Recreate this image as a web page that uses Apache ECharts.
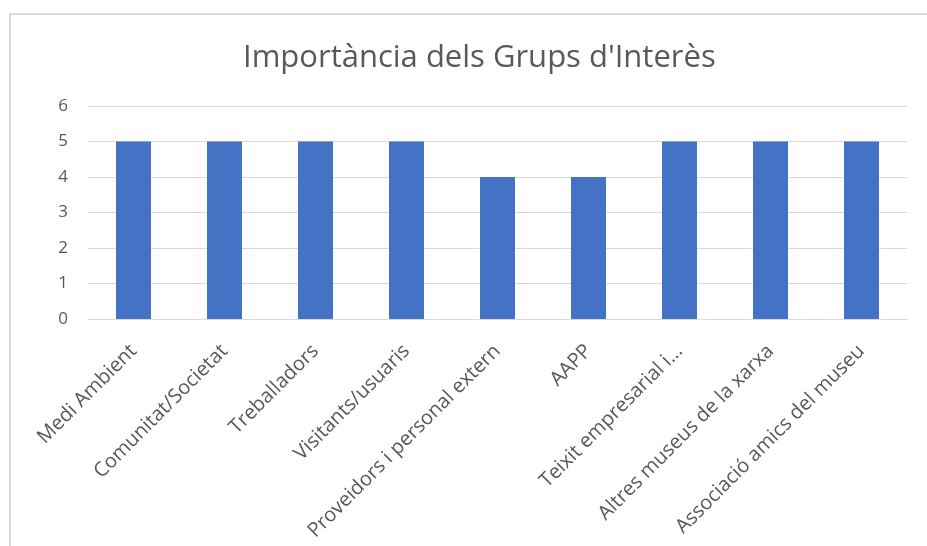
<!DOCTYPE html>
<html>
<head>
<meta charset="utf-8">
<script src="https://cdn.jsdelivr.net/npm/echarts@6/dist/echarts.min.js"></script>
<style>
html, body { margin: 0; padding: 0; background: #fff; }
#chart { width: 927px; height: 546px; }
</style>
</head>
<body>
<div id="chart"></div>
<script>
var categories = ['Medi Ambient', 'Comunitat/Societat', 'Treballadors', 'Visitants/usuaris',
    'Proveidors i personal extern', 'AAPP', 'Teixit empresarial i...', 'Altres museus de la xarxa',
    'Associació amics del museu'];
var values = [5, 5, 5, 5, 4, 4, 5, 5, 5];
var yTicks = [0, 1, 2, 3, 4, 5, 6];

(function(){
    var myChart = echarts.init(document.getElementById('chart'));

    var option = {
        animation: false,
        title: {
            text: "Importància dels Grups d'Interès",
            left: 238,
            top: 38,
            textStyle: {
                fontFamily: 'Open Sans',
                fontWeight: 'normal',
                fontSize: 31,
                color: '#595959'
            }
        },
        graphic: [{
            type: 'rect',
            shape: { x: 10, y: 14, width: 940, height: 560 },
            style: { fill: null, stroke: '#d9d9d9', lineWidth: 2 },
            silent: true
        }],
        grid: {
            left: 88,
            right: 20,
            top: 106,
            bottom: 227
        },
        xAxis: {
            type: 'category',
            data: categories,
            axisLine: { lineStyle: { color: '#d9d9d9', width: 1 } },
            axisTick: { show: false },
            axisLabel: {
                rotate: 45,
                interval: 0,
                margin: 29,
                fontFamily: 'Open Sans',
                fontSize: 20,
                color: '#595959'
            }
        },
        yAxis: {
            type: 'value',
            min: yTicks[0],
            max: yTicks[yTicks.length - 1],
            interval: 1,
            axisLine: { show: false },
            axisTick: { show: false },
            splitLine: { lineStyle: { color: '#d9d9d9', width: 1 } },
            axisLabel: {
                margin: 20,
                fontFamily: 'Open Sans',
                fontSize: 17,
                color: '#595959'
            }
        },
        series: [{
            type: 'bar',
            data: values,
            barWidth: 35,
            itemStyle: { color: '#4472C4' }
        }]
    };
    myChart.setOption(option);
})();
</script>
</body>
</html>
